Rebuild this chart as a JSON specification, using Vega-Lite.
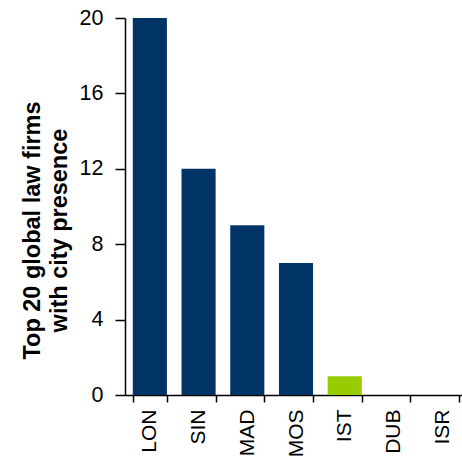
{
  "$schema": "https://vega.github.io/schema/vega-lite/v6.json",
  "autosize": "none",
  "width": 342,
  "height": 377,
  "padding": {"left": 125, "top": 18, "right": 0, "bottom": 62},
  "background": "white",
  "config": {
    "view": {"stroke": null},
    "font": "Liberation Sans"
  },
  "data": {
    "values": [
      {"city": "LON", "firms": 20, "group": "a"},
      {"city": "SIN", "firms": 12, "group": "a"},
      {"city": "MAD", "firms": 9, "group": "a"},
      {"city": "MOS", "firms": 7, "group": "a"},
      {"city": "IST", "firms": 1, "group": "b"},
      {"city": "DUB", "firms": 0, "group": "a"},
      {"city": "ISR", "firms": 0, "group": "a"}
    ]
  },
  "mark": {"type": "bar"},
  "encoding": {
    "x": {
      "field": "city",
      "type": "nominal",
      "sort": null,
      "scale": {"paddingInner": 0.3, "paddingOuter": 0.16},
      "axis": {
        "title": null,
        "labelAngle": -90,
        "labelFont": "Liberation Sans",
        "labelFontSize": 21,
        "labelColor": "black",
        "labelAlign": "right",
        "labelBaseline": "middle",
        "labelPadding": 7,
        "tickBand": "extent",
        "tickSize": 7,
        "tickColor": "black",
        "tickWidth": 1.5,
        "domainColor": "black",
        "domainWidth": 1.5
      }
    },
    "y": {
      "field": "firms",
      "type": "quantitative",
      "scale": {"domain": [0, 20]},
      "axis": {
        "title": ["Top 20 global law firms", "with city presence"],
        "titleFont": "Liberation Sans",
        "titleFontSize": 23.5,
        "titleFontWeight": "bold",
        "titleColor": "black",
        "titleAngle": -90,
        "titleBaseline": "top",
        "titleAlign": "center",
        "titleLineHeight": 27,
        "titleX": -105,
        "titleY": 212,
        "values": [0, 4, 8, 12, 16, 20],
        "grid": false,
        "labelFont": "Liberation Sans",
        "labelFontSize": 21.5,
        "labelColor": "black",
        "labelPadding": 12,
        "tickSize": 10,
        "tickColor": "black",
        "tickWidth": 1.5,
        "domainColor": "black",
        "domainWidth": 1.5
      }
    },
    "color": {
      "field": "group",
      "type": "nominal",
      "scale": {"domain": ["a", "b"], "range": ["#003366", "#99CC00"]},
      "legend": null
    }
  }
}
